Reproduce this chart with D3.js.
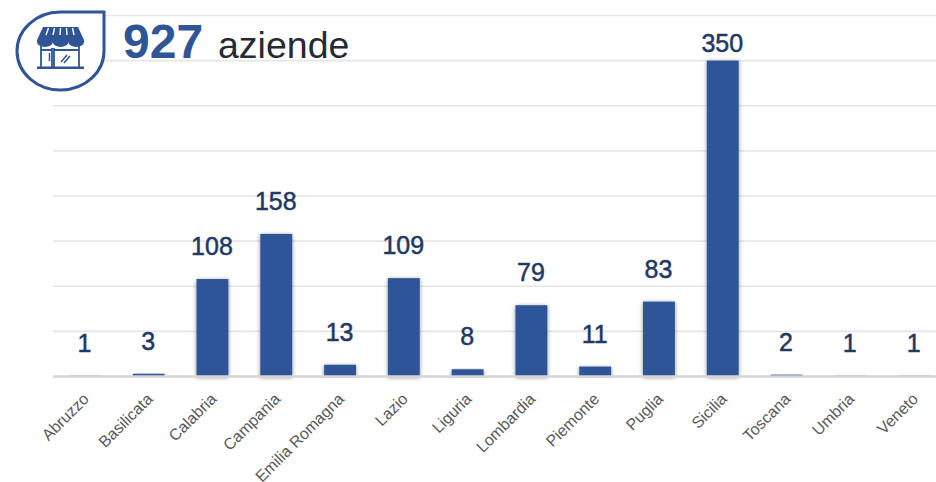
<!DOCTYPE html>
<html>
<head>
<meta charset="utf-8">
<script src="https://cdn.jsdelivr.net/npm/d3@7"></script>
<style>
  html, body { margin: 0; padding: 0; background: #fff; overflow: hidden; }
  svg { display: block; font-family: "Liberation Sans", Arial, sans-serif; }
</style>
</head>
<body>
<div id="chart"></div>
<script>
const regions = ['Abruzzo', 'Basilicata', 'Calabria', 'Campania', 'Emilia Romagna', 'Lazio', 'Liguria', 'Lombardia', 'Piemonte', 'Puglia', 'Sicilia', 'Toscana', 'Umbria', 'Veneto'];
const companies = [1, 3, 108, 158, 13, 109, 8, 79, 11, 83, 350, 2, 1, 1];
const gridTicks = [0, 50, 100, 150, 200, 250, 300, 350, 400];
const totalLabel = '927';
const unitLabel = 'aziende';

const width = 936;
const height = 482;
const blue = '#2f5597';

const svg = d3.select('#chart').append('svg')
  .attr('width', width)
  .attr('height', height);

const shadow = svg.append('defs').append('filter')
  .attr('id', 'bar-shadow')
  .attr('x', '-30%').attr('y', '-10%')
  .attr('width', '160%').attr('height', '120%');
shadow.append('feDropShadow')
  .attr('dx', 0).attr('dy', 1)
  .attr('stdDeviation', 2)
  .attr('flood-color', '#000')
  .attr('flood-opacity', 0.45);

const x = d3.scaleBand().domain(regions).range([53, 946]).paddingInner(0.5).paddingOuter(0.25);
const y = d3.scaleLinear().domain([0, 400]).range([376.5, 15.5]);

// gridlines
svg.append('g')
  .selectAll('line')
  .data(gridTicks.filter(d => d > 0))
  .join('line')
  .attr('x1', 53)
  .attr('x2', width)
  .attr('y1', d => y(d))
  .attr('y2', d => y(d))
  .attr('stroke', '#e6e6e6')
  .attr('stroke-width', 1.6);

// bars
svg.append('g')
  .selectAll('rect')
  .data(companies)
  .join('rect')
  .attr('x', (d, i) => x(regions[i]))
  .attr('y', d => y(d))
  .attr('width', x.bandwidth())
  .attr('height', d => y(0) - y(d))
  .attr('fill', blue)
  .attr('filter', 'url(#bar-shadow)');

// baseline goes over the bars, it hides the ones with a value of 1
svg.append('line')
  .attr('x1', 53)
  .attr('x2', width)
  .attr('y1', y(0))
  .attr('y2', y(0))
  .attr('stroke', '#d6d6d6')
  .attr('stroke-width', 2.5);

// value labels, the tallest one gets pushed down so it stays in the plot
svg.append('g')
  .selectAll('text')
  .data(companies)
  .join('text')
  .attr('x', (d, i) => x(regions[i]) + x.bandwidth() / 2 - 0.5)
  .attr('y', d => Math.max(y(d) - 24, 52))
  .attr('text-anchor', 'middle')
  .attr('font-size', 25)
  .attr('fill', '#1f3864')
  .attr('stroke', '#1f3864')
  .attr('stroke-width', 0.5)
  .text(d => d);

// category labels
svg.append('g')
  .selectAll('text')
  .data(regions)
  .join('text')
  .attr('transform', d => `translate(${x(d) + x.bandwidth() / 2 + 5},${400}) rotate(-45)`)
  .attr('text-anchor', 'end')
  .attr('font-size', 16)
  .attr('fill', '#595959')
  .text(d => d);

// header
const header = svg.append('text').attr('y', 58);
header.append('tspan')
  .attr('x', 123)
  .attr('font-size', 48)
  .attr('font-weight', 'bold')
  .attr('fill', blue)
  .text(totalLabel);
header.append('tspan')
  .attr('x', 218)
  .attr('font-size', 37.5)
  .attr('fill', '#252a35')
  .text(unitLabel);

// shop icon
const icon = svg.append('g').attr('fill', blue);

icon.append('path')
  .attr('d', 'M104,12 V50 A43.5,39 0 1 1 60,12 Z')
  .attr('fill', '#fff')
  .attr('stroke', blue)
  .attr('stroke-width', 3);

// awning
icon.append('path').attr('d', 'M43,27 H78 L84,40 H37 Z');
icon.selectAll('.stripe')
  .data(d3.range(5))
  .join('line')
  .attr('class', 'stripe')
  .attr('x1', d => 48.5 + d * 6)
  .attr('x2', d => 46 + d * 7)
  .attr('y1', 28)
  .attr('y2', 35)
  .attr('stroke', '#fff')
  .attr('stroke-width', 1.4);

// scallops
icon.append('path').attr('d', 'M37,40 H84 V42 A7.8,5 0 0 1 68.4,42 A7.8,5 0 0 1 52.8,42 A7.8,5 0 0 1 37,42 Z');

// door, window and floor
icon.append('path')
  .attr('d', 'M41,46 V67 M52,48 V67 M54,48 V67 M79,46 V67 M54,50 H79 M41,50 H52')
  .attr('fill', 'none')
  .attr('stroke', blue)
  .attr('stroke-width', 1.8);
icon.append('rect').attr('x', 37).attr('y', 66.5).attr('width', 47).attr('height', 2.5);
icon.append('path')
  .attr('d', 'M49.5,53 V61 M61,62 L67,55 M64,63 L70,56')
  .attr('stroke', blue)
  .attr('stroke-width', 1.5);
</script>
</body>
</html>
